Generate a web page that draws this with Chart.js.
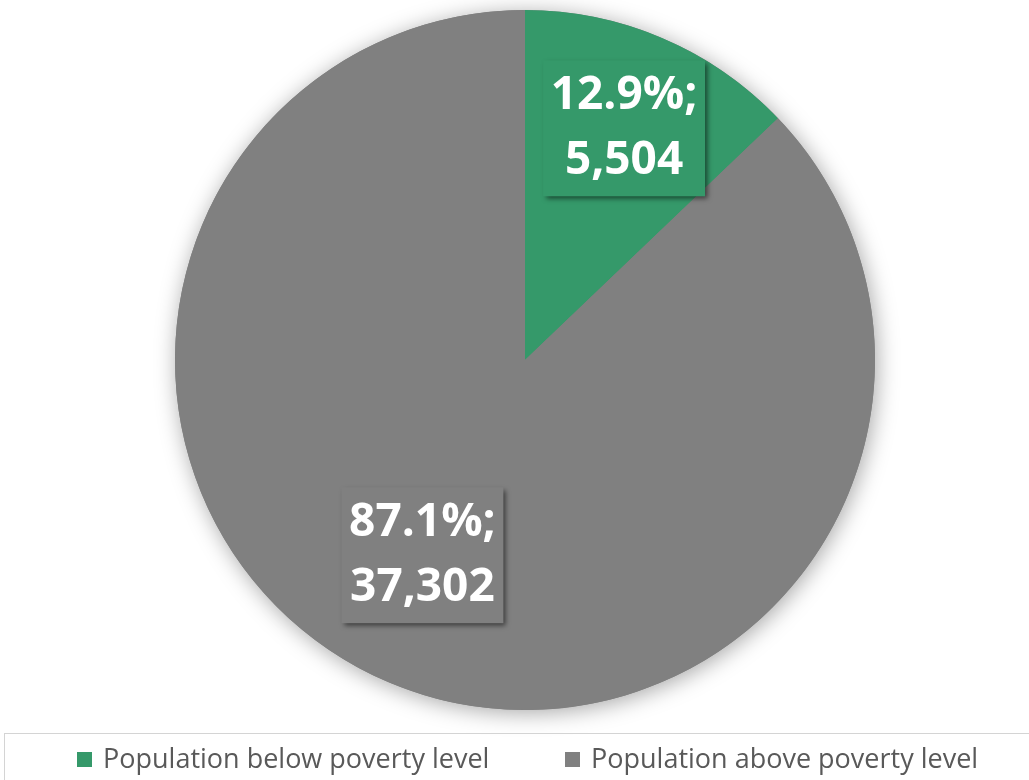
<!DOCTYPE html>
<html>
<head>
<meta charset="utf-8">
<script src="https://cdn.jsdelivr.net/npm/chart.js@4"></script>
<style>
    html, body { margin: 0; padding: 0; background: #ffffff; }
    #wrap { width: 1029px; height: 780px; position: relative; }
</style>
</head>
<body>
<div id="wrap"><canvas id="pie-chart" width="1029" height="780"></canvas></div>
<script>
// chart data
const categories = ["Population below poverty level", "Population above poverty level"];
const population = [5504, 37302];
const percent_labels = ["12.9%", "87.1%"];
const value_labels = ["5,504", "37,302"];
const slice_colors = ["#35996a", "#808080"];

/**
 * Pie shadow + data label boxes + legend box.
 */
const excel_look = {
    id: "excel_look",
    beforeDatasetsDraw(chart) {
        // soft shadow under the whole pie
        let arc = chart.getDatasetMeta(0).data[0];
        let ctx = chart.ctx;
        ctx.save();
        ctx.shadowColor = "rgba(0, 0, 0, 0.35)";
        ctx.shadowBlur = 22;
        ctx.shadowOffsetX = 2;
        ctx.shadowOffsetY = 3;
        ctx.fillStyle = "#808080";
        ctx.beginPath();
        ctx.arc(arc.x, arc.y, arc.outerRadius, 0, Math.PI * 2);
        ctx.fill();
        ctx.restore();
    },
    afterDatasetsDraw(chart, args, opts) {
        let ctx = chart.ctx;
        let meta = chart.getDatasetMeta(0);
        meta.data.forEach((arc, i) => {
            let place = opts.places[i];
            let mid = (arc.startAngle + arc.endAngle) / 2 + place.shift;
            let r = arc.outerRadius * place.radius;
            let cx = arc.x + Math.cos(mid) * r;
            let cy = arc.y + Math.sin(mid) * r;
            let w = 162, h = 136;

            ctx.save();
            ctx.shadowColor = "rgba(0, 0, 0, 0.55)";
            ctx.shadowBlur = 5;
            ctx.shadowOffsetX = 3;
            ctx.shadowOffsetY = 3;
            ctx.fillStyle = slice_colors[i];
            ctx.fillRect(cx - w / 2, cy - h / 2, w, h);
            ctx.restore();

            ctx.save();
            ctx.fillStyle = "#ffffff";
            ctx.font = "bold 46px 'Open Sans'";
            ctx.textAlign = "center";
            ctx.textBaseline = "middle";
            ctx.fillText(percent_labels[i] + ";", cx, cy - 32);
            ctx.fillText(value_labels[i], cx, cy + 33);
            ctx.restore();
        });
    },
    afterDraw(chart) {
        let ctx = chart.ctx;
        // legend frame
        ctx.save();
        ctx.strokeStyle = "#d4d4d4";
        ctx.lineWidth = 1;
        ctx.strokeRect(4.5, 733.5, 1030, 60);
        ctx.font = "27px 'Open Sans'";
        ctx.textBaseline = "alphabetic";
        let starts = [77, 565];
        categories.forEach((name, i) => {
            ctx.fillStyle = slice_colors[i];
            ctx.fillRect(starts[i], 752, 15, 15);
            ctx.fillStyle = "#595959";
            ctx.fillText(name, starts[i] + 26, 768);
        });
        ctx.restore();
    }
};

new Chart(document.querySelector("#pie-chart"), {
    type: "pie",
    data: {
        labels: categories,
        datasets: [{
            data: population,
            backgroundColor: slice_colors,
            borderWidth: 0
        }]
    },
    options: {
        responsive: false,
        animation: false,
        layout: {
            padding: { top: 10, bottom: 70, left: 175, right: 154 }
        },
        plugins: {
            legend: { display: false },
            tooltip: { enabled: false },
            excel_look: {
                places: [
                    { radius: 0.72, shift: 0 },
                    { radius: 0.63, shift: 0.08 }
                ]
            }
        }
    },
    plugins: [excel_look]
});
</script>
</body>
</html>
